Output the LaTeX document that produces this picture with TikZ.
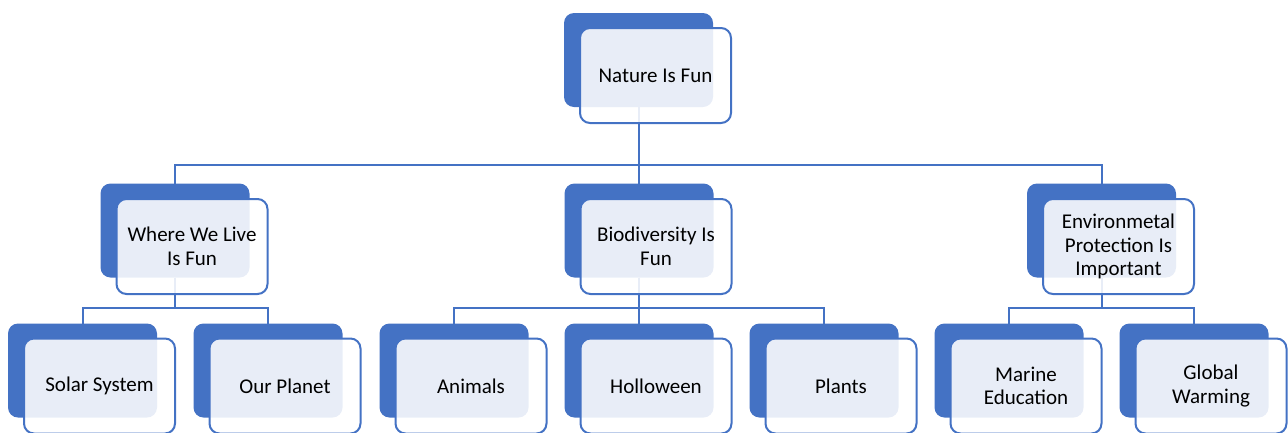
\documentclass[tikz,border=0pt]{standalone}
\usepackage{fontspec}
\setmainfont{Carlito}
\definecolor{accent}{HTML}{4472C4}
\tikzset{
  backbox/.style={rectangle, rounded corners=10pt, fill=accent, minimum width=149pt, minimum height=94pt, inner sep=0pt, outer sep=0pt},
  frontbox/.style={rectangle, rounded corners=10pt, draw=accent, line width=2pt, fill=white, fill opacity=0.88, text opacity=1, draw opacity=1, minimum width=151pt, minimum height=95pt, inner sep=2pt, outer sep=0pt, align=center, text=black, font=\fontsize{21}{23.5}\selectfont},
  conn/.style={draw=accent, line width=2pt}
}
\begin{document}
\begin{tikzpicture}[x=1pt, y=-1pt]
\useasboundingbox (0,0) rectangle (1288,432);
\clip (0,0) rectangle (1288,432);
% back boxes
\node[backbox] (b0) at (638.5,60) {};
\node[backbox] (b1) at (175,230.5) {};
\node[backbox] (b2) at (639,230.5) {};
\node[backbox] (b3) at (1101.5,230.5) {};
\node[backbox] (b11) at (82.5,370.5) {};
\node[backbox] (b12) at (268,370.5) {};
\node[backbox] (b21) at (454,370.5) {};
\node[backbox] (b22) at (639,370.5) {};
\node[backbox] (b23) at (824,370.5) {};
\node[backbox] (b31) at (1009,370.5) {};
\node[backbox] (b32) at (1194,370.5) {};
% bus lines
\coordinate (bus0) at (0,165);
\coordinate (bus1) at (0,308);
% connectors
\foreach \c in {b1,b2,b3}{
  \draw[conn] (b0.south) -- (b0.south |- bus0) -| (\c.north);
}
\foreach \c in {b11,b12}{
  \draw[conn] (b1.south) -- (b1.south |- bus1) -| (\c.north);
}
\foreach \c in {b21,b22,b23}{
  \draw[conn] (b2.south) -- (b2.south |- bus1) -| (\c.north);
}
\foreach \c in {b31,b32}{
  \draw[conn] (b3.south) -- (b3.south |- bus1) -| (\c.north);
}
% front boxes
\node[frontbox] (f0) at (655.5,75.5) {Nature Is Fun};
\node[frontbox] (f1) at (192,246.5) {Where We Live\\Is Fun};
\node[frontbox] (f2) at (656,246.5) {Biodiversity Is\\Fun};
\node[frontbox] (f3) at (1118.5,246.5) {Environmetal\\Protection Is\\Important};
\node[frontbox] (f11) at (99.5,386) {Solar System};
\node[frontbox] (f12) at (285,386) {Our Planet};
\node[frontbox] (f21) at (471,386) {Animals};
\node[frontbox] (f22) at (656,386) {Holloween};
\node[frontbox] (f23) at (841,386) {Plants};
\node[frontbox] (f31) at (1026,386) {Marine\\Education};
\node[frontbox] (f32) at (1211,386) {Global\\Warming};
\end{tikzpicture}
\end{document}
